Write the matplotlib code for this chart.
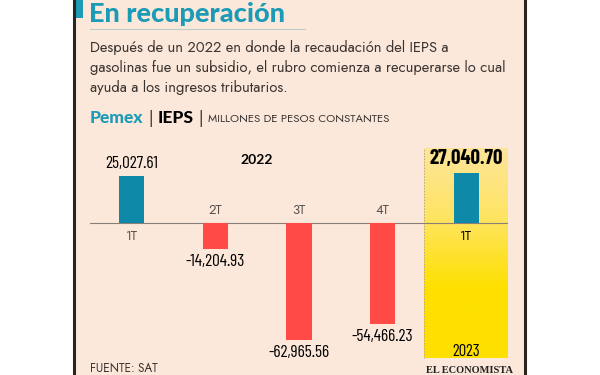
import matplotlib
matplotlib.use("Agg")
import matplotlib.pyplot as plt
from matplotlib.patches import Rectangle
from matplotlib.colors import LinearSegmentedColormap
import numpy as np

# data
labels = ["1T", "2T", "3T", "4T", "1T"]
values = [25027.61, -14204.93, -62965.56, -54466.23, 27040.70]
value_text = ["25,027.61", "-14,204.93", "-62,965.56", "-54,466.23", "27,040.70"]
years = ["2022", "2023"]

W, H = 600, 375
bg = "#fbe8da"
teal = "#0e8aa8"
red = "#ff4a45"
title_teal = "#1b9bb6"
dark = "#2b2520"

body_font = ['Jost', 'Lato', 'DejaVu Sans']
heavy_font = ['Lato', 'DejaVu Sans']
num_font = ['Barlow Condensed', 'Roboto Condensed', 'Oswald', 'Lato', 'DejaVu Sans']
plt.rcParams['font.family'] = body_font

fig = plt.figure(figsize=(6, 3.75), dpi=100)
fig.patch.set_facecolor("white")

def fx(px):
    return px / W

def fy(py):
    return 1 - py / H

# panel background and borders
fig.patches.append(Rectangle((fx(74), 0), fx(525) - fx(74), 1, transform=fig.transFigure,
                             facecolor=bg, edgecolor="none", zorder=-5))
fig.add_artist(plt.Line2D([fx(74), fx(74)], [0, 1], color=dark, lw=2.2, transform=fig.transFigure))
fig.add_artist(plt.Line2D([fx(525), fx(525)], [0, 1], color=dark, lw=2.2, transform=fig.transFigure))
fig.patches.append(Rectangle((fx(76), fy(18)), fx(7), 18 / H, transform=fig.transFigure,
                             facecolor=title_teal, edgecolor="none", zorder=1))

# header texts
fig.text(fx(89), fy(22), "En recuperación", color=title_teal, fontsize=19.5, fontweight="black",
         family=heavy_font, ha="left", va="baseline")
fig.add_artist(plt.Line2D([fx(90), fx(305)], [fy(29), fy(29)], color="#b9cfc8", lw=0.8,
                          transform=fig.transFigure))
body = ("Después de un 2022 en donde la recaudación del IEPS a\n"
        "gasolinas fue un subsidio, el rubro comienza a recuperarse lo cual\n"
        "ayuda a los ingresos tributarios.")
fig.text(fx(90), fy(40), body, color="#3a3330", fontsize=10.6, ha="left", va="top",
         linespacing=1.4)

fig.canvas.draw()
r = fig.canvas.get_renderer()
x = fx(90)
parts = [("Pemex", title_teal, 12.5, "black", heavy_font), (" | ", "#3a3330", 12, "normal", body_font),
         ("IEPS", "black", 12.5, "black", heavy_font), (" | ", "#3a3330", 12, "normal", body_font),
         ("MILLONES DE PESOS CONSTANTES", "#3a3330", 8.2, "normal", body_font)]
for s, c, fs, fw, fam in parts:
    t = fig.text(x, fy(123), s, color=c, fontsize=fs, fontweight=fw, family=fam,
                 ha="left", va="baseline")
    x = t.get_window_extent(r).x1 / W

# chart axes: x -0.5..4.5 over px 90..508, zero at px 223, 538 units per px
ax_l, ax_r, ax_t, ax_b = 90, 508, 140, 362
per_px = 538.0
ymax = (223 - ax_t) * per_px
ymin = -(ax_b - 223) * per_px
ax = fig.add_axes([fx(ax_l), fy(ax_b), fx(ax_r) - fx(ax_l), (ax_b - ax_t) / H], zorder=3)
ax.axis("off")

# highlighted 2023 area with vertical gradient
y_top = (223 - 148) * per_px
y_bot = -(358 - 223) * per_px
grad = np.linspace(0, 1, 256).reshape(-1, 1)
cmap = LinearSegmentedColormap.from_list("yl", ["#fde59a", "#fee462", "#fee000", "#fee000"])
ax.imshow(grad, extent=[3.5, 4.5, y_bot, y_top], aspect="auto", cmap=cmap, origin="upper",
          zorder=0.5)
ax.plot([3.5, 3.5], [y_bot, y_top], color="#b8a888", lw=0.7, ls=(0, (1.5, 1.5)), zorder=0.6)
ax.set_xlim(-0.5, 4.5)
ax.set_ylim(ymin, ymax)

xs = np.arange(len(values))
colors = [teal if v > 0 else red for v in values]
ax.bar(xs, values, width=0.3, color=colors, zorder=2)
ax.axhline(0, xmin=0, xmax=1, color="#8a7f78", lw=0.8, zorder=1.5)

for i, (v, t, lab) in enumerate(zip(values, value_text, labels)):
    bold = i == 4
    if v > 0:
        ax.text(i, v + 5 * per_px, t, ha="center", va="bottom", fontsize=15 if bold else 12.5,
                fontweight="bold" if bold else "normal", color="black", family=num_font)
        ax.text(i, -7 * per_px, lab, ha="center", va="top", fontsize=9.5,
                color="black" if bold else "#55504c", family=body_font)
    else:
        ax.text(i, v - 5 * per_px, t, ha="center", va="top", fontsize=12.5, color="black",
                family=num_font)
        ax.text(i, 6 * per_px, lab, ha="center", va="bottom", fontsize=9.5, color="#55504c",
                family=body_font)

ax.text(1.5, (223 - 160) * per_px, years[0], ha="center", va="center", fontsize=10,
        fontweight="bold", color="black", family=heavy_font)
ax.text(4, -(351 - 223) * per_px, years[1], ha="center", va="center", fontsize=12,
        color="black", family=num_font)

# footer
fig.text(fx(90), fy(373), "FUENTE: SAT", fontsize=8.5, color="#3a3330", ha="left", va="baseline")
fig.text(fx(426), fy(373), "EL ECONOMISTA", fontsize=7.5, fontweight="bold", color="#222",
         family="Liberation Serif", ha="left", va="baseline")

fig.savefig("out.png", dpi=100, facecolor="white")
